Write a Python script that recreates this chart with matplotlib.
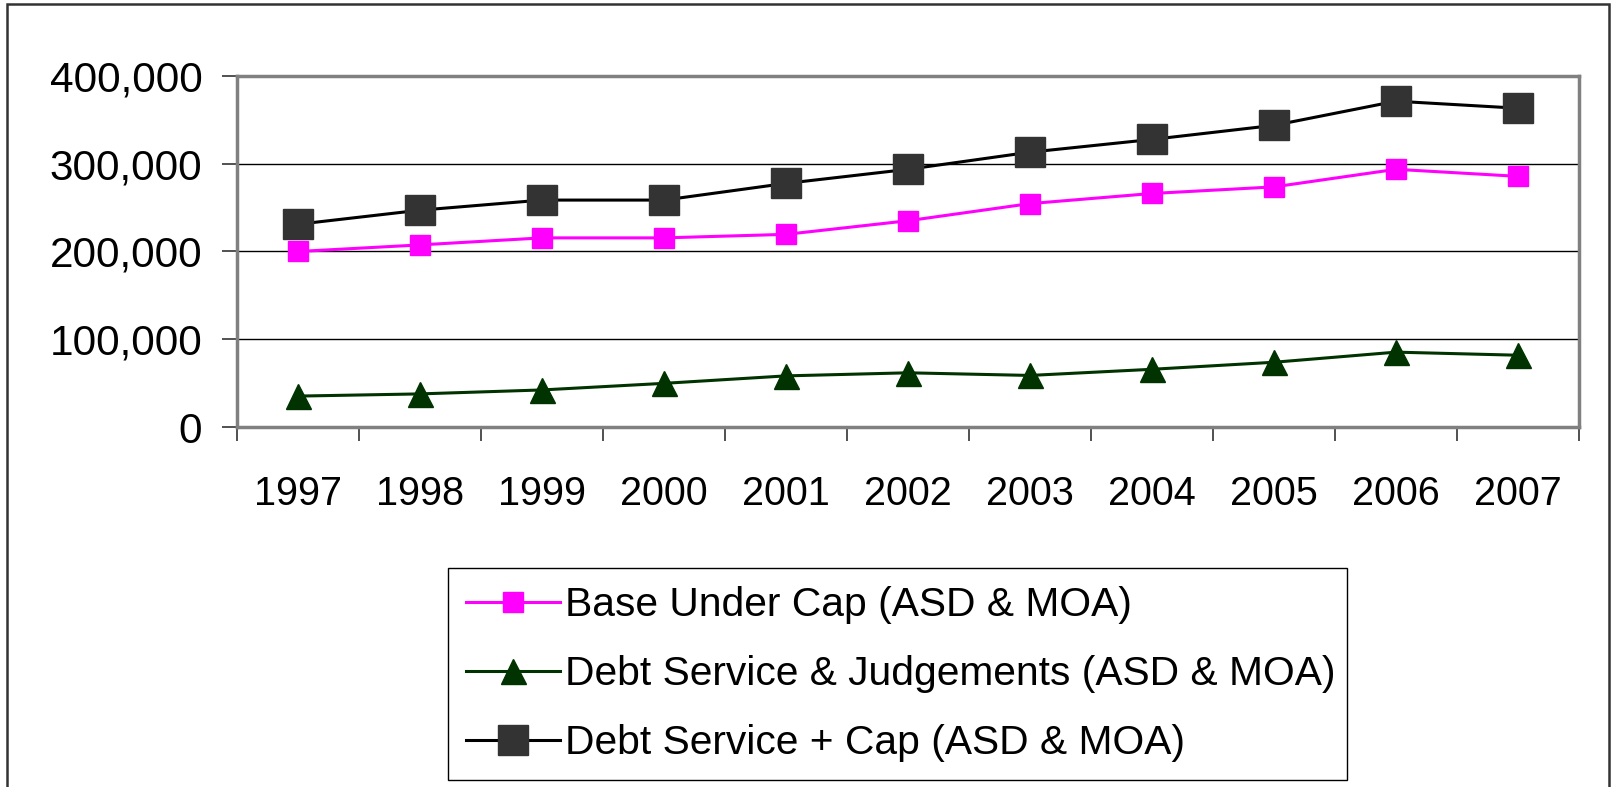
import matplotlib
matplotlib.use("Agg")
import matplotlib.pyplot as plt
from matplotlib.patches import Rectangle
from matplotlib.ticker import FuncFormatter, FixedLocator

years = ["1997", "1998", "1999", "2000", "2001", "2002", "2003", "2004", "2005", "2006", "2007"]
base_under_cap = [200000, 207500, 215500, 215500, 219500, 235000, 254500, 266000, 273500, 293500, 285500]
debt_judgements = [35500, 38000, 42500, 50000, 58500, 62000, 59000, 66000, 74000, 85500, 82000]
debt_plus_cap = [231000, 247000, 258500, 258500, 277500, 293500, 313000, 327500, 343500, 371000, 363000]
labels = ["Base Under Cap (ASD & MOA)",
          "Debt Service & Judgements (ASD & MOA)",
          "Debt Service + Cap (ASD & MOA)"]
yticks = [0, 100000, 200000, 300000, 400000]

plt.rcParams['font.family'] = ['Liberation Sans', 'DejaVu Sans']

W, H = 1612, 787
fig = plt.figure(figsize=(W / 100, H / 100), dpi=100)
ax = fig.add_axes([237 / W, 1 - 427.3 / H, (1579 - 237) / W, (427.3 - 75.7) / H])

x = list(range(len(years)))
ax.plot(x, base_under_cap, color='#FF00FF', lw=2.2, marker='s', markersize=14,
        markerfacecolor='#FF00FF', markeredgecolor='#FF00FF', label=labels[0], zorder=4)
ax.plot(x, debt_judgements, color='#003300', lw=2.2, marker='^', markersize=18,
        markerfacecolor='#003300', markeredgecolor='#003300', label=labels[1], zorder=4)
ax.plot(x, debt_plus_cap, color='#000000', lw=2.2, marker='s', markersize=22,
        markerfacecolor='#333333', markeredgecolor='#333333', label=labels[2], zorder=5)

ax.set_xlim(-0.5, len(years) - 0.5)
ax.set_ylim(0, 400000)
ax.set_yticks(yticks)
ax.yaxis.set_major_formatter(FuncFormatter(lambda v, p: f"{int(v):,}"))
ax.grid(axis='y', color='black', lw=1.0)
ax.set_axisbelow(True)

ax.set_xticks(x)
ax.set_xticklabels(years)
ax.xaxis.set_minor_locator(FixedLocator([i - 0.5 for i in range(len(years) + 1)]))
ax.tick_params(axis='x', which='major', length=0, pad=34, labelsize=28.5)
ax.tick_params(axis='x', which='minor', length=10, width=1.2, color='#333333')
ax.tick_params(axis='y', which='major', length=11, width=1.2, color='#333333', pad=14, labelsize=30.5)

for s in ax.spines.values():
    s.set_color('#808080')
    s.set_linewidth(2.5)

leg = fig.legend(loc='upper left',
                 bbox_to_anchor=(448 / W, 1 - 568 / H, (1347 - 448) / W, 0.0),
                 mode='expand',
                 fontsize=29.3, frameon=True, fancybox=False, framealpha=1,
                 edgecolor='black', handlelength=2.3, handletextpad=0.12,
                 labelspacing=0.76, borderpad=0.45, borderaxespad=0)
leg.get_frame().set_linewidth(1.0)

fig.patches.append(Rectangle((7 / W, -0.05), (1609 - 7) / W, 1.05 - 4 / H,
                             transform=fig.transFigure, fill=False,
                             edgecolor='#333333', lw=1.8))

fig.savefig("out.png", dpi=100, facecolor='white')
